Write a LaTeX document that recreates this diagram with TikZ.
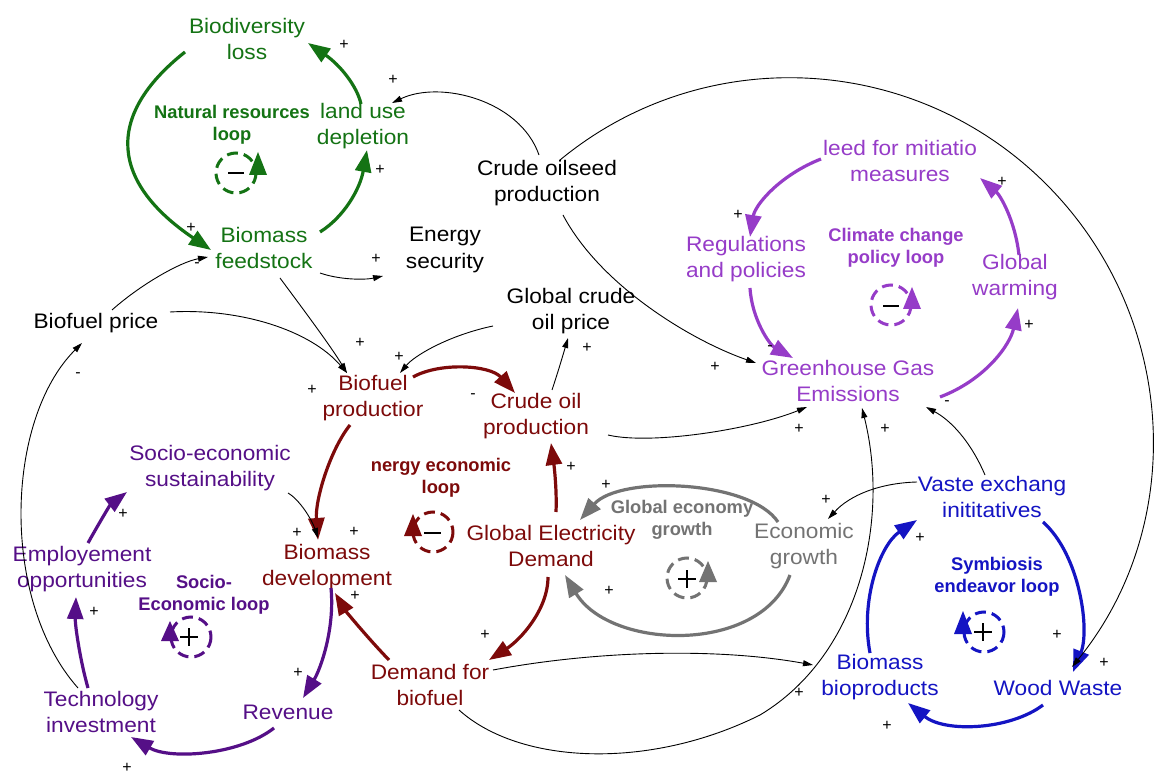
\documentclass[tikz,border=0pt]{standalone}
\usepackage{fontspec}
\setmainfont{Liberation Sans}[FakeStretch=1.08]
\newfontfamily\lblfont{Liberation Sans}
\usetikzlibrary{arrows.meta,calc}
\definecolor{cgreen}{RGB}{20,115,20}
\definecolor{cmaroon}{RGB}{125,10,10}
\definecolor{cpurple}{RGB}{150,60,200}
\definecolor{cblue}{RGB}{20,20,195}
\definecolor{cindigo}{RGB}{85,15,135}
\definecolor{cgray}{RGB}{115,115,115}
\tikzset{
  var/.style={align=center, inner sep=0pt, font=\fontsize{21}{26.5}\selectfont},
  loopl/.style={align=center, inner sep=0pt, font=\lblfont\bfseries\fontsize{18.3}{22}\selectfont},
  sgn/.style={inner sep=0pt, font=\lblfont\fontsize{16}{16}\selectfont},
  thn/.style={line width=0.9pt, -{Triangle[length=10pt,width=6pt]}},
  thk/.style={line width=3.2pt, -{Triangle[length=22pt,width=16pt]}},
  loopc/.style={line width=3pt, dash pattern=on 11pt off 6pt},
  mark sign/.style={line width=2.4pt, black}
}
\begin{document}
\begin{tikzpicture}[x=1pt,y=-1pt]
\useasboundingbox (0,0) rectangle (1160,775);
\fill[white] (0,0) rectangle (1160,775);

% ---------- variables ----------
\node[var, text=cgreen] (bio) at (247,39) {Biodiversity\\loss};
\node[var, text=cgreen] (lud) at (363,126) {land use\\depletion};
\node[var, text=cgreen] (bfs) at (264,248) {Biomass\\feedstock};
\node[var] (es) at (445,250) {Energy\\security};
\node[var] (cos) at (547,183) {Crude oilseed\\production};
\node[var] (gcp) at (571,311) {Global crude\\oil price};
\node[var] (bp) at (96,323) {Biofuel price};
\node[var, text=cmaroon] (bpr) at (373,398) {Biofuel\\productior};
\node[var, text=cmaroon] (cop) at (536,416) {Crude oil\\production};
\node[var, text=cindigo] (ses) at (210,468) {Socio-economic\\sustainability};
\node[var, text=cmaroon] (bdev) at (327,567) {Biomass\\development};
\node[var, text=cmaroon] (ged) at (551,546) {Global Electricity\\Demand};
\node[var, text=cgray] (eg) at (804,546) {Economic\\growth};
\node[var, text=cindigo] (emp) at (82,569) {Employement\\opportunities};
\node[var, text=cindigo] (tech) at (101,712) {Technology\\investment};
\node[var, text=cindigo] (rev) at (288,712) {Revenue};
\node[var, text=cmaroon] (dfb) at (430,685) {Demand for\\biofuel};
\node[var, text=cpurple] (nmm) at (900,161) {leed for mitiatio\\measures};
\node[var, text=cpurple] (reg) at (746,259) {Regulations\\and policies};
\node[var, text=cpurple] (gw) at (1015,277) {Global\\warming};
\node[var, text=cpurple] (ghg) at (848,381) {Greenhouse Gas\\Emissions};
\node[var, text=cblue] (wei) at (992,497) {Vaste exchang\\inititatives};
\node[var, text=cblue] (bbp) at (880,677) {Biomass\\bioproducts};
\node[var, text=cblue] (ww) at (1058,688) {Wood Waste};

% ---------- loop labels ----------
\node[loopl, text=cgreen] (nrl) at (232,125) {Natural resources\\loop};
\node[loopl, text=cmaroon] (eel) at (441,478) {nergy economic\\loop};
\node[loopl, text=cgray] (gegl) at (682,520) {Global economy\\growth};
\node[loopl, text=cpurple] (ccl) at (896,248) {Climate change\\policy loop};
\node[loopl, text=cindigo] (sel) at (204,595) {Socio-\\Economic loop};
\node[loopl, text=cblue] (syl) at (997,577) {Symbiosis\\endeavor loop};

% ---------- loop symbols ----------
\draw[loopc, cgreen] (236,173) circle[radius=20];
\draw[mark sign] (228,173) -- (244,173);
\fill[cgreen] (258,152) -- (267,175) -- (249,175) -- cycle;

\draw[loopc, cmaroon] (433,532) circle[radius=20];
\draw[mark sign] (424,533) -- (441,533);
\fill[cmaroon] (413,514) -- (422,536) -- (404,536) -- cycle;

\draw[loopc, cgray] (687,578) circle[radius=20];
\draw[mark sign] (678,579) -- (696,579) (687,570) -- (687,588);
\fill[cgray] (708,561) -- (717,582) -- (699,582) -- cycle;

\draw[loopc, cpurple] (891,305) circle[radius=20];
\draw[mark sign] (883,306) -- (899,306);
\fill[cpurple] (912,287) -- (921,309) -- (903,309) -- cycle;

\draw[loopc, cindigo] (191,637) circle[radius=20];
\draw[mark sign] (180,637) -- (198,637) (189,628) -- (189,646);
\fill[cindigo] (170,621) -- (179,641) -- (161,641) -- cycle;

\draw[loopc, cblue] (984,632) circle[radius=20];
\draw[mark sign] (974,632) -- (992,632) (983,623) -- (983,641);
\fill[cblue] (963,611) -- (972,634) -- (954,634) -- cycle;

% ---------- thick loop arrows ----------
\draw[thk, cgreen] ($(bio)+(-62,13)$) .. controls +(-82,65) and +(-99,-67) .. ($(bfs)+(-53,2)$);
\draw[thk, cgreen] ($(bfs)+(56,-16)$) .. controls +(24,-15) and +(-7,39) .. ($(lud)+(4,24)$);
\draw[thk, cgreen] ($(lud)+(-2,-22)$) .. controls +(-4,-18) and +(32,22) .. ($(bio)+(61,4)$);

\draw[thk, cmaroon] ($(bpr)+(40,-21)$) .. controls +(27,-15) and +(-25,-28) .. ($(cop)+(-21,-23)$);
\draw[thk, cmaroon] ($(bpr)+(-23,27)$) .. controls +(-20,25) and +(-3,-40) .. ($(bdev)+(-9,-27)$);
\draw[thk, cmaroon] ($(ged)+(5,-34)$) .. controls +(1,-22) and +(3,22) .. ($(cop)+(15,27)$);
\draw[thk, cmaroon] ($(ged)+(-3,31)$) .. controls +(0,33) and +(31,-20) .. ($(dfb)+(59,-25)$);
\draw[thk, cmaroon] ($(dfb)+(-41,-25)$) .. controls +(-24,-25) and +(10,17) .. ($(bdev)+(8,26)$);

\draw[thk, cgray] ($(eg)+(-26,-24)$) .. controls +(-28,-42) and +(40,-45) .. ($(ged)+(29,-26)$);
\draw[thk, cgray] ($(eg)+(-14,29)$) .. controls +(-30,80) and +(45,75) .. ($(ged)+(14,29)$);

\draw[thk, cpurple] ($(nmm)+(-79,-2)$) .. controls +(-41,16) and +(5,-32) .. ($(reg)+(4,-22)$);
\draw[thk, cpurple] ($(reg)+(4,29)$) .. controls +(2,32) and +(-23,-13) .. ($(ghg)+(-55,-23)$);
\draw[thk, cpurple] ($(ghg)+(92,16)$) .. controls +(45,-17) and +(-8,37) .. ($(gw)+(3,31)$);
\draw[thk, cpurple] ($(gw)+(4,-22)$) .. controls +(-4,-35) and +(20,17) .. ($(nmm)+(80,17)$);

\draw[thk, cblue] ($(bbp)+(-10,-24)$) .. controls +(-10,-53) and +(-37,25) .. ($(wei)+(-75,23)$);
\draw[thk, cblue] ($(wei)+(51,25)$) .. controls +(37,33) and +(17,-42) .. ($(ww)+(15,-16)$);
\draw[thk, cblue] ($(ww)+(-15,17)$) .. controls +(-33,25) and +(37,30) .. ($(bbp)+(28,26)$);

\draw[thk, cindigo] ($(bdev)+(4,21)$) .. controls +(4,42) and +(17,-28) .. ($(rev)+(15,-14)$);
\draw[thk, cindigo] ($(rev)+(-14,16)$) .. controls +(-34,27) and +(39,23) .. ($(tech)+(30,25)$);
\draw[thk, cindigo] ($(tech)+(-13,-24)$) .. controls +(-8,-28) and +(-1,28) .. ($(emp)+(-6,28)$);
\draw[thk, cindigo] ($(emp)+(6,-26)$) .. controls +(10,-18) and +(-17,13) .. ($(ses)+(-83,24)$);

% ---------- thin black links ----------
\draw[thn] ($(cos)+(-8,-28)$) .. controls +(-19,-55) and +(48,-23) .. ($(lud)+(29,-23)$);
\draw[thn] ($(cos)+(13,-23)$) .. controls +(143,-118) and +(-132,-131) .. (1045,183)
            .. controls +(132,131) and +(117,-144) .. ($(ww)+(14,-21)$);
\draw[thn] ($(cos)+(16,32)$) .. controls +(37,70) and +(-66,-23) .. ($(ghg)+(-92,-18)$);
\draw[thn] ($(bfs)+(56,25)$) .. controls +(20,7) and +(-18,4) .. ($(es)+(-62,26)$);
\draw[thn] ($(bfs)+(16,30)$) .. controls +(20,27) and +(-17,-28) .. ($(bpr)+(-26,-25)$);
\draw[thn] ($(bp)+(74,-11)$) .. controls +(70,-4) and +(-37,-43) .. ($(bpr)+(-26,-25)$);
\draw[thn] ($(gcp)+(-78,15)$) .. controls +(-43,9) and +(15,-18) .. ($(bpr)+(27,-25)$);
\draw[thn] ($(bp)+(16,-13)$) .. controls +(28,-25) and +(-28,5) .. ($(bfs)+(-56,9)$);
\draw[thn] ($(tech)+(-23,-24)$) .. controls +(-78,-88) and +(-77,77) .. ($(bp)+(-14,20)$);
\draw[thn] ($(cop)+(16,-26)$) .. controls +(6,-18) and +(-5,17) .. ($(gcp)+(-3,27)$);
\draw[thn] ($(ses)+(78,25)$) .. controls +(12,7) and +(-6,-18) .. ($(bdev)+(-9,-29)$);
\draw[thn] ($(cop)+(72,19)$) .. controls +(42,10) and +(-57,23) .. ($(ghg)+(-41,26)$);
\draw[thn] ($(dfb)+(63,-15)$) .. controls +(107,-20) and +(-93,-17) .. ($(bbp)+(-67,-12)$);
\draw[thn] ($(dfb)+(29,25)$) .. controls +(61,55) and +(-110,55) .. (760,715)
            .. controls +(100,-60) and +(28,112) .. ($(ghg)+(14,27)$);
\draw[thn] ($(wei)+(-7,-22)$) .. controls +(-15,-35) and +(24,13) .. ($(ghg)+(78,26)$);
\draw[thn] ($(wei)+(-75,-15)$) .. controls +(-37,1) and +(22,-24) .. ($(eg)+(24,-27)$);

% ---------- polarity signs ----------
\node[sgn] (p1) at (344,45) {+};
\node[sgn] (p2) at (393,80) {+};
\node[sgn] (p3) at (380,170) {+};
\node[sgn] (p4) at (191,228) {+};
\node[sgn] (p5) at (197,265) {-};
\node[sgn] (p6) at (376,259) {+};
\node[sgn] (p7) at (360,343) {+};
\node[sgn] (p8) at (399,357) {+};
\node[sgn] (p9) at (312,390) {+};
\node[sgn] (p10) at (78,375) {-};
\node[sgn] (p11) at (587,348) {+};
\node[sgn] (p12) at (473,396) {-};
\node[sgn] (p13) at (738,215) {+};
\node[sgn] (p14) at (1002,182) {+};
\node[sgn] (p15) at (1029,325) {+};
\node[sgn] (p16) at (715,367) {+};
\node[sgn] (p17) at (770,348) {-};
\node[sgn] (p18) at (947,403) {-};
\node[sgn] (p19) at (799,429) {+};
\node[sgn] (p20) at (885,429) {+};
\node[sgn] (p21) at (571,467) {+};
\node[sgn] (p22) at (606,485) {+};
\node[sgn] (p23) at (826,500) {+};
\node[sgn] (p24) at (297,533) {+};
\node[sgn] (p25) at (354,532) {+};
\node[sgn] (p26) at (123,514) {+};
\node[sgn] (p27) at (920,538) {+};
\node[sgn] (p28) at (609,591) {+};
\node[sgn] (p29) at (355,596) {+};
\node[sgn] (p30) at (94,612) {+};
\node[sgn] (p31) at (1057,635) {+};
\node[sgn] (p32) at (485,635) {+};
\node[sgn] (p33) at (1104,663) {+};
\node[sgn] (p34) at (298,673) {+};
\node[sgn] (p35) at (799,693) {+};
\node[sgn] (p36) at (887,726) {+};
\node[sgn] (p37) at (127,768) {+};
\end{tikzpicture}
\end{document}
